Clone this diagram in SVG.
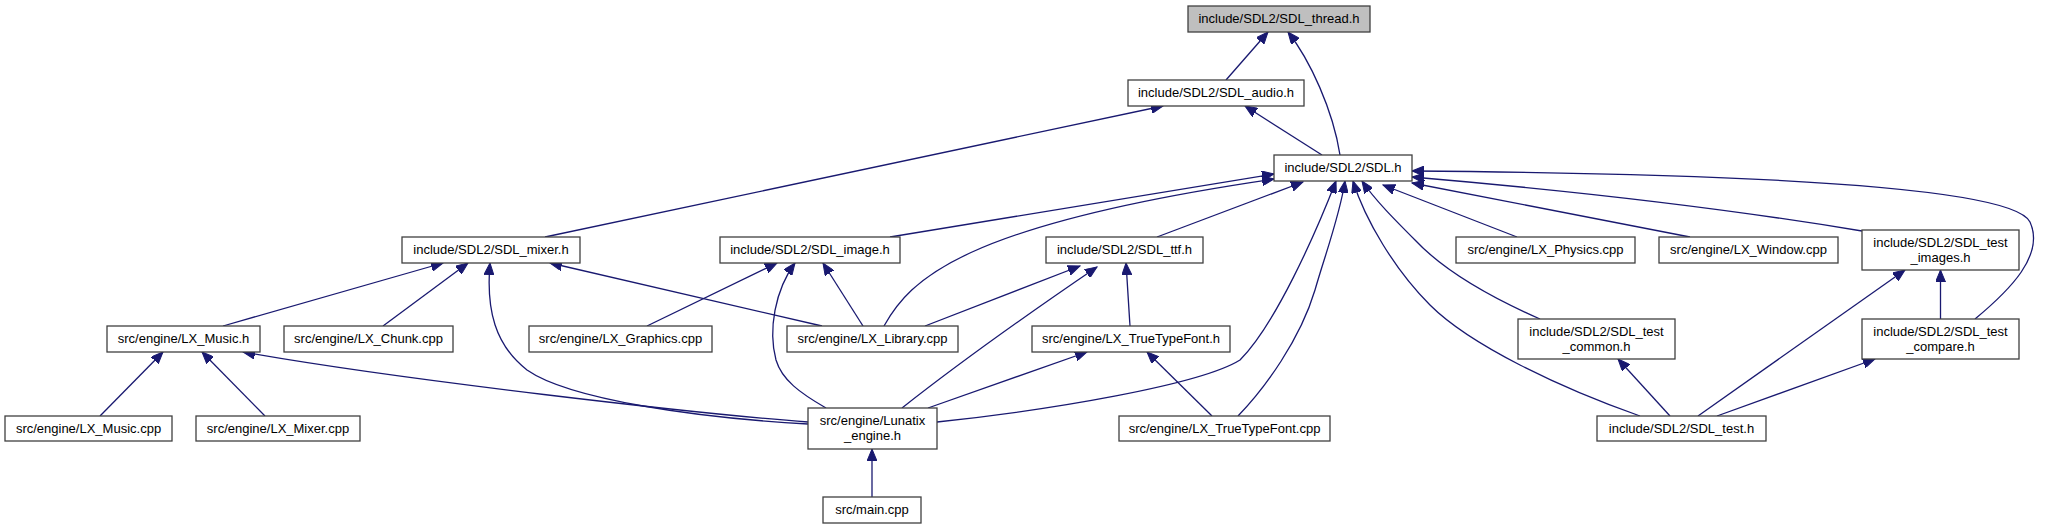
<svg xmlns="http://www.w3.org/2000/svg" width="2045" height="529" viewBox="0 0 2045 529">
<style>
.n rect{fill:#ffffff;stroke:#404040;stroke-width:1.3}
.root rect{fill:#bfbfbf}
text{font-family:"Liberation Sans",Arial,sans-serif;font-size:13px;fill:#000;text-anchor:middle}
.e path{fill:none;stroke:#191970;stroke-width:1.3;marker-end:url(#ah)}
</style>
<defs>
<marker id="ah" markerUnits="userSpaceOnUse" markerWidth="13" markerHeight="10" refX="12" refY="5" orient="auto">
<path d="M0,0 L12,5 L0,10 z" fill="#191970" stroke="#191970" stroke-width="1"/>
</marker>
</defs>
<rect width="2045" height="529" fill="#ffffff"/>
<g id="edges" class="e">
<path d="M1226,80 L1268,32"/>
<path d="M1340,155 C1333,110 1310,60 1288,32"/>
<path d="M1322,155 L1245,106"/>
<path d="M545,237 L1163,106"/>
<path d="M890,237 L1274,174"/>
<path d="M884,326 C910,280 960,225 1274,179"/>
<path d="M1157,237 L1303,182"/>
<path d="M937,422 C1050,410 1200,385 1240,360 C1275,325 1315,235 1336,181"/>
<path d="M1238,416 C1265,388 1300,340 1315,290 C1325,255 1340,215 1345,181"/>
<path d="M1640,416 C1560,388 1470,345 1430,305 C1395,270 1365,220 1353,181"/>
<path d="M1540,319 C1490,297 1445,272 1415,240 C1395,220 1375,200 1362,181"/>
<path d="M1517,237 L1383,185"/>
<path d="M1690,237 L1412,183"/>
<path d="M1862,231 C1760,214 1600,193 1412,177"/>
<path d="M1975,319 C2010,290 2045,255 2030,222 C2015,190 1800,174 1412,171"/>
<path d="M1940.5,319 L1940.5,270"/>
<path d="M1670,416 L1618,359"/>
<path d="M1698,416 L1905,270"/>
<path d="M1717,416 L1875,359"/>
<path d="M223,326 L443,263"/>
<path d="M383,326 L468,263"/>
<path d="M808,424 C700,418 570,400 527,370 C495,345 486,310 490,263"/>
<path d="M808,422 C700,414 400,380 243,352"/>
<path d="M822,326 L550,263"/>
<path d="M100,416 L163,352"/>
<path d="M265,416 L202,352"/>
<path d="M647,326 L777,263"/>
<path d="M863,326 L823,263"/>
<path d="M826,408 C800,393 782,380 776,360 C768,330 775,290 795,263"/>
<path d="M925,326 L1080,266"/>
<path d="M902,408 C940,378 1000,333 1097,267"/>
<path d="M1130,326 L1126,263"/>
<path d="M928,408 L1087,352"/>
<path d="M1212,416 L1147,352"/>
<path d="M872,497 L872,449"/>
</g>
<g id="n_thread" class="n root"><rect x="1188" y="6" width="182" height="26"/><text x="1279" y="23">include/SDL2/SDL_thread.h</text></g>
<g id="n_audio" class="n"><rect x="1128" y="80" width="176" height="26"/><text x="1216" y="97">include/SDL2/SDL_audio.h</text></g>
<g id="n_sdl" class="n"><rect x="1274" y="155" width="138" height="26"/><text x="1343" y="172">include/SDL2/SDL.h</text></g>
<g id="n_mixer" class="n"><rect x="402" y="237" width="178" height="26"/><text x="491" y="254">include/SDL2/SDL_mixer.h</text></g>
<g id="n_image" class="n"><rect x="720" y="237" width="180" height="26"/><text x="810" y="254">include/SDL2/SDL_image.h</text></g>
<g id="n_ttf" class="n"><rect x="1046" y="237" width="157" height="26"/><text x="1124.5" y="254">include/SDL2/SDL_ttf.h</text></g>
<g id="n_physics" class="n"><rect x="1456" y="237" width="179" height="26"/><text x="1545.5" y="254">src/engine/LX_Physics.cpp</text></g>
<g id="n_window" class="n"><rect x="1659" y="237" width="179" height="26"/><text x="1748.5" y="254">src/engine/LX_Window.cpp</text></g>
<g id="n_test_images" class="n"><rect x="1862" y="230" width="157" height="40"/><text x="1940.5" y="246.5">include/SDL2/SDL_test</text><text x="1940.5" y="261.5">_images.h</text></g>
<g id="n_music_h" class="n"><rect x="107" y="326" width="153" height="26"/><text x="183.5" y="343">src/engine/LX_Music.h</text></g>
<g id="n_chunk" class="n"><rect x="284" y="326" width="169" height="26"/><text x="368.5" y="343">src/engine/LX_Chunk.cpp</text></g>
<g id="n_graphics" class="n"><rect x="529" y="326" width="183" height="26"/><text x="620.5" y="343">src/engine/LX_Graphics.cpp</text></g>
<g id="n_library" class="n"><rect x="787" y="326" width="171" height="26"/><text x="872.5" y="343">src/engine/LX_Library.cpp</text></g>
<g id="n_ttf_h" class="n"><rect x="1032" y="326" width="198" height="26"/><text x="1131" y="343">src/engine/LX_TrueTypeFont.h</text></g>
<g id="n_test_common" class="n"><rect x="1518" y="319" width="157" height="40"/><text x="1596.5" y="335.5">include/SDL2/SDL_test</text><text x="1596.5" y="350.5">_common.h</text></g>
<g id="n_test_compare" class="n"><rect x="1862" y="319" width="157" height="40"/><text x="1940.5" y="335.5">include/SDL2/SDL_test</text><text x="1940.5" y="350.5">_compare.h</text></g>
<g id="n_music_cpp" class="n"><rect x="5" y="416" width="167" height="25"/><text x="88.5" y="433">src/engine/LX_Music.cpp</text></g>
<g id="n_mixer_cpp" class="n"><rect x="196" y="416" width="164" height="25"/><text x="278" y="433">src/engine/LX_Mixer.cpp</text></g>
<g id="n_lunatix" class="n"><rect x="808" y="408" width="129" height="41"/><text x="872.5" y="425">src/engine/Lunatix</text><text x="872.5" y="439.5">_engine.h</text></g>
<g id="n_ttf_cpp" class="n"><rect x="1119" y="416" width="211" height="25"/><text x="1224.5" y="433">src/engine/LX_TrueTypeFont.cpp</text></g>
<g id="n_sdl_test" class="n"><rect x="1597" y="416" width="169" height="25"/><text x="1681.5" y="433">include/SDL2/SDL_test.h</text></g>
<g id="n_main" class="n"><rect x="823" y="497" width="98" height="26"/><text x="872" y="514">src/main.cpp</text></g>
</svg>
